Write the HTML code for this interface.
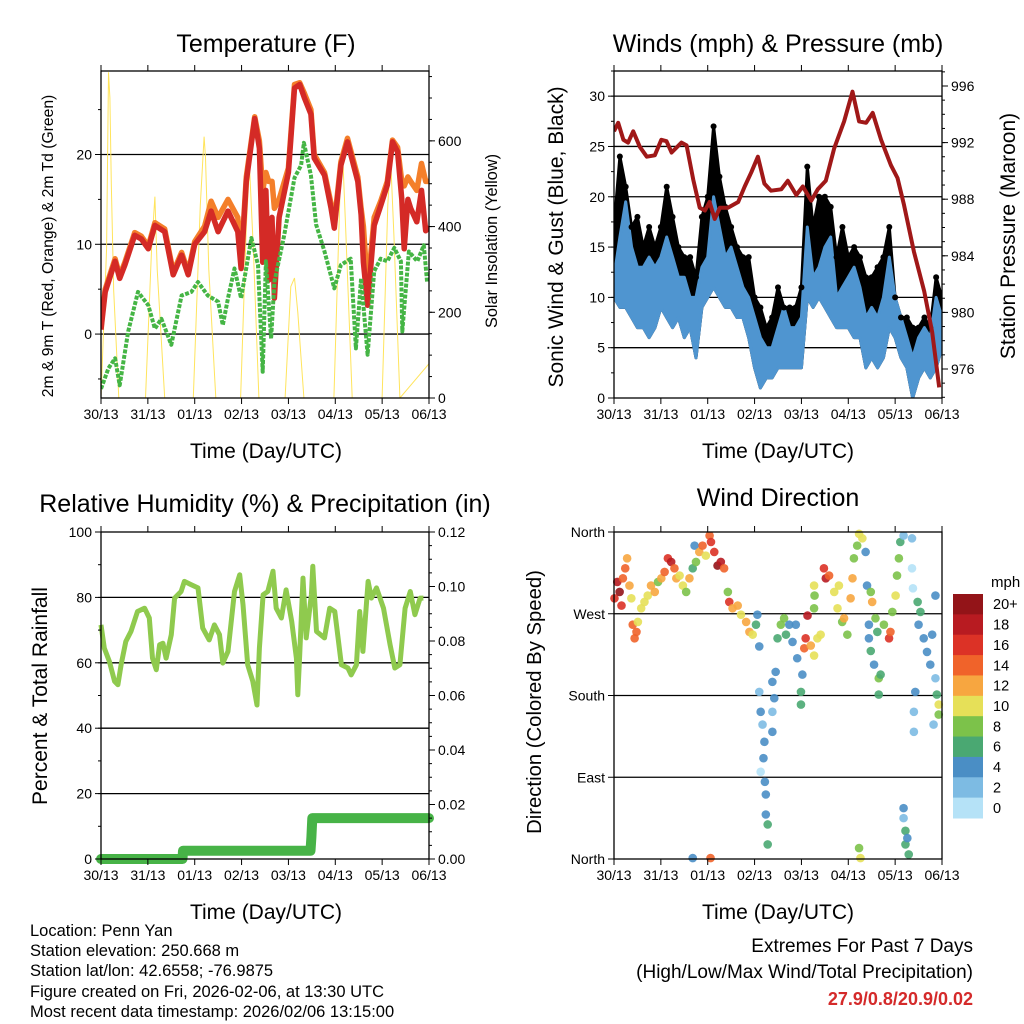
<!DOCTYPE html>
<html><head><meta charset="utf-8"><style>
html,body{margin:0;padding:0;background:#fff;}
svg{display:block;font-family:"Liberation Sans",sans-serif;}
</style></head><body>
<svg id="c" width="1024" height="1024" viewBox="0 0 1024 1024" xmlns="http://www.w3.org/2000/svg">
<rect width="1024" height="1024" fill="#fff"/>
<g id="layer"></g>
<text x="266" y="52" font-size="25" text-anchor="middle">Temperature (F)</text>
<text x="778" y="52" font-size="25" text-anchor="middle">Winds (mph) &amp; Pressure (mb)</text>
<text x="265" y="512" font-size="25" text-anchor="middle">Relative Humidity (%) &amp; Precipitation (in)</text>
<text x="778" y="506" font-size="25" text-anchor="middle">Wind Direction</text>
<text x="266" y="458" font-size="21" text-anchor="middle">Time (Day/UTC)</text>
<text x="778" y="458" font-size="21" text-anchor="middle">Time (Day/UTC)</text>
<text x="266" y="919" font-size="21" text-anchor="middle">Time (Day/UTC)</text>
<text x="778" y="919" font-size="21" text-anchor="middle">Time (Day/UTC)</text>
<text transform="translate(53,246) rotate(-90)" font-size="15.7" text-anchor="middle">2m &amp; 9m T (Red, Orange) &amp; 2m Td (Green)</text>
<text transform="translate(497,241) rotate(-90)" font-size="16.3" text-anchor="middle">Solar Insolation (Yellow)</text>
<text transform="translate(563,237) rotate(-90)" font-size="21" text-anchor="middle">Sonic Wind &amp; Gust (Blue, Black)</text>
<text transform="translate(1015,236) rotate(-90)" font-size="21" text-anchor="middle">Station Pressure (Maroon)</text>
<text transform="translate(47,696) rotate(-90)" font-size="21" text-anchor="middle">Percent &amp; Total Rainfall</text>
<text transform="translate(541,702) rotate(-90)" font-size="20.3" text-anchor="middle">Direction (Colored By Speed)</text>
<g font-size="16.5">
<text x="30" y="936">Location: Penn Yan</text>
<text x="30" y="956">Station elevation: 250.668 m</text>
<text x="30" y="976">Station lat/lon: 42.6558; -76.9875</text>
<text x="30" y="997">Figure created on Fri, 2026-02-06, at 13:30 UTC</text>
<text x="30" y="1017">Most recent data timestamp: 2026/02/06 13:15:00</text>
</g>
<g font-size="19" text-anchor="end">
<text x="973" y="952">Extremes For Past 7 Days</text>
<text x="973" y="978">(High/Low/Max Wind/Total Precipitation)</text>
<text x="973" y="1005" fill="#d42a2a" font-weight="bold" font-size="18">27.9/0.8/20.9/0.02</text>
</g>
<text x="991" y="587" font-size="15">mph</text>
</svg>
<script>
// ---------- Temperature data ----------
const tempTimes=[0,0.09,0.3,0.4,0.51,0.72,0.86,1.01,1.15,1.36,1.54,1.72,1.86,2.0,2.21,2.35,2.5,2.71,2.92,2.99,3.1,3.28,3.38,3.45,3.52,3.58,3.65,3.7,3.8,4.0,4.13,4.24,4.34,4.48,4.55,4.77,4.91,4.98,5.12,5.26,5.48,5.55,5.6,5.69,5.83,5.97,6.11,6.22,6.33,6.42,6.47,6.55,6.61,6.74,6.84,6.93,7];
const temp2m=[0.5,4.7,8.1,6.2,7.7,11,10.6,9.5,12.1,11.4,6.6,8.8,6.6,10,11.4,13.7,11.4,13.7,11.4,7.3,17,24,20.7,8,16,6,13,4,13,18,27.4,27.8,26.3,24.5,19.6,17.7,14,11.8,18.8,21.4,17,13.3,8,3.2,12.1,14.3,16.6,21.4,20.3,15,9.5,15,14,12.5,16,11.5,12];
const temp9m=[0.8,5,8.4,6.5,8,11.3,10.9,9.8,12.4,11.7,6.9,9.1,6.9,10.3,12,14.8,13,15,13,8,17.5,24.2,21.5,16,18,17,17,14,15,18.5,27.8,28,26.8,25,20,18,14.5,12.3,19.2,21.8,17.5,14,12,5,13,14.8,17,21.6,20.8,17,16.5,17.5,17,16,19,17,17];
const dewTimes=[0,0.16,0.3,0.4,0.58,0.79,1.01,1.15,1.29,1.5,1.72,1.93,2.07,2.28,2.5,2.6,2.71,2.85,2.99,3.21,3.35,3.45,3.52,3.63,3.7,3.91,4.13,4.27,4.33,4.48,4.59,4.77,4.98,5.12,5.33,5.44,5.55,5.69,5.83,5.97,6.11,6.26,6.4,6.43,6.57,6.75,6.89,6.96];
const dew2m=[-6.1,-3.8,-2.7,-5.7,0.3,4.7,3.2,0.6,1.7,-1.2,4.3,4.7,5.8,4.3,3.6,1,4,7.3,4,10.7,7.7,-4.2,8.1,-0.5,5.8,11,17.4,18.8,21.3,17.7,12.2,9.2,5.1,7.7,8.4,-1.6,6.2,-2.3,7,8.4,8.1,9.6,8.1,0.3,9.2,8.1,9.9,5.8];
const solarTimes=[0,0.12,0.16,0.19,0.22,0.27,0.38,0.95,1.08,1.15,1.2,1.36,1.97,2.12,2.2,2.23,2.3,2.45,2.98,3.1,3.17,3.25,3.37,3.93,4.05,4.13,4.2,4.33,4.97,5.1,5.16,5.22,5.36,6.0,6.12,6.18,6.25,6.38,7];
const solarVals=[0,350,760,700,500,250,0,0,350,470,300,0,0,450,610,560,300,0,0,400,540,350,0,0,260,280,200,0,0,480,560,400,0,0,450,560,380,0,80];
// ---------- Wind data ----------
const windTimes=[0,0.125,0.25,0.375,0.5,0.625,0.75,0.875,1,1.125,1.25,1.375,1.5,1.625,1.75,1.875,2,2.125,2.25,2.375,2.5,2.625,2.75,2.875,3,3.125,3.25,3.375,3.5,3.625,3.75,3.875,4,4.125,4.25,4.375,4.5,4.625,4.75,4.875,5,5.125,5.25,5.375,5.5,5.625,5.75,5.875,6,6.125,6.25,6.375,6.5,6.625,6.75,6.875,7];
const windLow=[10,9,9,8,7,7,6,7,9,8,7,8,6,7,4,9,10,11,10,9,9,8,8,6,3,1,2,2,3,3,3,3,3,10,9,10,9,8,7,7,7,6,6,3,4,3,4,7,6,4,3,0,2,3,2,3,5];
const windHigh=[12,16,19.5,15,13,13,14,13,14,16,14,12,12,10,10,13,14,20,17,14,15,13,11,10,8,6,5,5,7,9,7,7,8,17,12,13,15,16,10,11,12,13,11,8,9,8,10,14,10,8,6,4,6,7,6,10,8];
const gustHigh=[17,24,21,17,18,15,17,15,17,21,18,15,14,14,12,18,20,27,22,19,17,15,14,14,10,9,7,8,11,9,9,9,11,23,17,20,20,19,14,17,14,15,14,12,12,13,14,17,10,8,8,7,7,8,7,12,10];
const presTimes=[0,0.09,0.2,0.3,0.41,0.55,0.7,0.87,1.01,1.12,1.23,1.44,1.55,1.69,1.83,1.94,2.04,2.15,2.26,2.43,2.65,2.79,2.93,3.07,3.21,3.35,3.57,3.71,3.89,4.03,4.21,4.35,4.52,4.7,4.91,5.09,5.23,5.38,5.52,5.7,5.91,6.05,6.19,6.4,6.62,6.79,6.94];
const presVals=[992.8,993.4,992.2,992,992.8,991.7,991,991.1,992.2,992.1,991.3,992,991.8,989.4,987.4,987.2,987.8,986.6,987.4,987.4,987.8,988.9,989.9,991,989.1,988.6,988.7,989.3,988.3,988.9,987.9,988.7,989.3,991.6,993.5,995.6,993.5,993.4,994.1,992.2,990.4,989.5,987.6,984.3,981.5,978.6,974.7];
// ---------- RH / precip ----------
const rhTimes=[0,0.07,0.18,0.29,0.36,0.43,0.53,0.64,0.78,0.93,1.03,1.1,1.18,1.25,1.32,1.39,1.5,1.57,1.71,1.78,1.92,2.07,2.17,2.31,2.42,2.53,2.6,2.71,2.85,2.96,3.03,3.13,3.24,3.33,3.38,3.46,3.56,3.67,3.74,3.85,3.95,4.07,4.17,4.2,4.24,4.31,4.38,4.49,4.52,4.6,4.77,4.88,4.99,5.13,5.27,5.34,5.45,5.52,5.59,5.7,5.77,5.88,6.03,6.17,6.27,6.38,6.49,6.6,6.7,6.81,6.88];
const rhVals=[71.6,64.5,60.4,54.3,53.3,59.4,66.5,69.6,75.7,76.7,73.7,61.4,57.9,65.5,66,61.4,68.6,79.8,81.8,84.9,83.9,82.9,70.6,67,71.6,68.6,59.9,63.5,81.8,86.9,77.8,59.4,54.3,47.1,64.5,80.8,81.8,88,76.7,73.7,82.3,72.7,61.4,50.2,62.4,85.9,67.6,80.8,89.5,69.6,67.6,76.7,75.7,59.4,58.4,56.3,59.4,75.7,63.5,84.9,79.8,82.9,76.7,65.5,58.4,59.4,76.7,81.8,74.7,79.8,79.8];
const precipTimes=[0,1.74,1.75,4.47,4.49,4.51,7];
const precipVals=[0,0,0.003,0.003,0.008,0.015,0.015];
// ---------- Wind direction ----------
const dirTimes=[0.01,0.07,0.12,0.16,0.19,0.24,0.28,0.33,0.37,0.40,0.44,0.48,0.51,0.58,0.65,0.72,0.79,0.87,0.94,1.01,1.08,1.15,1.22,1.29,1.33,1.40,1.47,1.54,1.61,1.68,1.72,1.75,1.82,1.89,1.96,2.04,2.07,2.14,2.21,2.28,2.35,2.43,2.46,2.53,2.64,2.71,2.82,2.89,2.96,3.03,3.06,3.10,3.10,3.13,3.17,3.21,3.19,3.13,3.22,3.24,3.24,3.28,3.28,3.38,3.42,3.38,3.38,3.45,3.49,3.56,3.63,3.67,3.74,3.81,3.88,3.91,3.99,3.99,4.02,4.06,4.09,4.13,4.20,4.27,4.34,4.41,4.27,4.27,4.28,4.48,4.52,4.59,4.70,4.77,4.80,4.87,4.91,4.98,5.05,5.09,5.12,5.19,5.23,5.30,5.37,5.40,5.48,5.51,5.44,5.44,5.48,5.55,5.58,5.62,5.65,5.65,5.69,5.76,5.87,5.90,5.94,6.01,6.04,6.08,6.11,6.18,6.18,6.22,6.22,6.26,6.29,6.18,6.36,6.36,6.38,6.43,6.40,6.40,6.48,6.50,6.54,6.61,6.68,6.75,6.79,6.86,6.89,6.93,6.93,6.86,6.82,5.23,5.26,1.68,2.06];
const dirDegs=[287,305,294,279,309,320,331,301,287,258,243,250,261,276,283,290,301,294,305,309,316,331,327,320,309,312,301,294,309,320,345,327,338,345,334,356,349,338,323,327,320,294,283,276,279,269,261,250,247,258,269,234,184,162,148,129,111,96,85,71,49,38,16,195,177,162,140,206,243,258,265,247,258,239,258,221,184,170,203,232,243,268,235,224,243,247,276,301,290,320,309,312,294,276,301,261,265,247,287,309,331,345,358,353,338,301,294,283,258,243,229,214,265,250,199,181,203,258,243,250,272,290,312,331,349,356,56,31,16,23,5,45,353,320,298,184,162,140,283,258,272,243,228,214,247,199,181,170,159,290,148,12,1,1,1];
const dirSpeeds=[16,18,20,16,14,14,12,12,10,14,14,14,10,10,10,10,12,12,8,12,14,16,18,14,12,10,10,8,12,6,4,8,12,14,10,14,16,16,20,18,14,8,16,12,12,10,12,12,10,6,4,4,2,4,2,4,4,1,4,4,4,6,6,4,4,2,4,4,6,8,8,6,4,4,4,4,6,6,4,14,16,18,12,10,10,10,8,10,8,16,18,14,10,10,10,8,12,8,12,12,8,8,10,10,4,4,8,12,4,4,6,4,8,6,8,6,6,8,16,14,8,10,8,8,6,2,4,6,6,4,6,2,2,0,0,4,2,2,6,4,6,4,4,4,4,2,6,10,8,4,2,8,10,4,14];
const xTickLabels=["30/13","31/13","01/13","02/13","03/13","04/13","05/13","06/13"];
const speedLabels=["20+","18","16","14","12","10","8","6","4","2","0"];
const speedColors=["#b5e2f7","#7dbbe3","#4a8ec5","#4aa872","#7cc24a","#e6e058","#f7a640","#f0632a","#dc3226","#b81b21","#931418"];

const NS="http://www.w3.org/2000/svg";
const layer=document.getElementById('layer');
function mk(tag,attrs,parent){const e=document.createElementNS(NS,tag);for(const k in attrs)e.setAttribute(k,attrs[k]);(parent||layer).appendChild(e);return e;}
function lin(d0,d1,r0,r1){return v=>r0+(v-d0)*(r1-r0)/(d1-d0);}

const P={
 temp:{L:101,R:429,T:71,B:398},
 wind:{L:614,R:942,T:71,B:398},
 rh:{L:101,R:429,T:532,B:859},
 dir:{L:614,R:942,T:532,B:859}
};
function xs(p){return lin(0,7,p.L,p.R);}

function drawGrid(p,ys,vals){
 const g=mk('g',{});
 
 
 vals.forEach(v=>{mk('line',{x1:p.L,x2:p.R,y1:ys(v),y2:ys(v),stroke:'#000','stroke-width':1.3},g);});
}
function drawFrame(p,name){
 const g=mk('g',{});
 
 
 mk('rect',{x:p.L,y:p.T,width:p.R-p.L,height:p.B-p.T,fill:'none',stroke:'#000','stroke-width':1.3},g);
 const x=xs(p);
 xTickLabels.forEach((lab,i)=>{
  const px=x(i);
  mk('line',{x1:px,x2:px,y1:p.B,y2:p.B+6,stroke:'#000'},g);
  mk('line',{x1:px,x2:px,y1:p.T,y2:p.T-6,stroke:'#000'},g);
  const t=mk('text',{x:px,y:p.B+21,'font-size':14,'text-anchor':'middle'},g);
  t.textContent=lab;
  
  
 });
 return g;
}
function drawYAxis(p,ys,labels,vals,minors,side,fmt,g){
 const xe=side==='L'?p.L:p.R, dir=side==='L'?-1:1;
 minors.forEach(v=>{mk('line',{x1:xe,x2:xe+dir*3,y1:ys(v),y2:ys(v),stroke:'#000'},g);});
 vals.forEach((v,i)=>{
  mk('line',{x1:xe,x2:xe+dir*6,y1:ys(v),y2:ys(v),stroke:'#000'},g);
  const t=mk('text',{x:xe+dir*9,y:ys(v)+5,'font-size':14,'text-anchor':side==='L'?'end':'start'},g);
  t.textContent=labels[i];
  
  
 });
}
function range(a,b,s){const r=[];for(let v=a;v<=b+1e-9;v+=s)r.push(+v.toFixed(4));return r;}
function pts(xf,yf,ts,vs){return ts.map((t,i)=>xf(t).toFixed(1)+','+yf(vs[i]).toFixed(1)).join(' ');}

// ===== Temperature panel =====
(function(){
 const p=P.temp,x=xs(p),y=lin(-7.12,29.3,p.B,p.T),ys=lin(0,763,p.B,p.T);
 drawGrid(p,y,[0,10,20]);
 const clip=mk('clipPath',{id:'cT'});mk('rect',{x:p.L,y:p.T,width:p.R-p.L,height:p.B-p.T},clip);
 const g=mk('g',{'clip-path':'url(#cT)'});
 const s=mk('polyline',{points:pts(x,ys,solarTimes,solarVals),fill:'none',stroke:'#ffe45c','stroke-width':1},g);
 
 
 const o=mk('polyline',{points:pts(x,y,tempTimes,temp9m),fill:'none',stroke:'#f47f2a','stroke-width':5.5,'stroke-linejoin':'round'},g);
 
 
 const r=mk('polyline',{points:pts(x,y,tempTimes,temp2m),fill:'none',stroke:'#d42a26','stroke-width':5.5,'stroke-linejoin':'round'},g);
 
 
 const d=mk('polyline',{points:pts(x,y,dewTimes,dew2m),fill:'none',stroke:'#45b545','stroke-width':4,'stroke-dasharray':'4 1.5','stroke-linejoin':'round'},g);
 
 
 const f=drawFrame(p,'temp');
 drawYAxis(p,y,['0','10','20'],[0,10,20],[-5,5,15,25],'L',null,f);
 drawYAxis(p,ys,['0','200','400','600'],[0,200,400,600],range(0,750,50),'R',null,f);
})();

// ===== Wind panel =====
(function(){
 const p=P.wind,x=xs(p),y=lin(0,32.5,p.B,p.T),yp=lin(973.95,997.06,p.B,p.T);
 drawGrid(p,y,[5,10,15,20,25,30]);
 const clip=mk('clipPath',{id:'cW'});mk('rect',{x:p.L,y:p.T,width:p.R-p.L,height:p.B-p.T},clip);
 const g=mk('g',{'clip-path':'url(#cW)'});
 const band=(lo,hi,col,name)=>{
  const fw=windTimes.map((t,i)=>x(t).toFixed(1)+','+y(hi[i]).toFixed(1));
  const bw=windTimes.map((t,i)=>x(t).toFixed(1)+','+y(lo[i]).toFixed(1)).reverse();
  const e=mk('polygon',{points:fw.concat(bw).join(' '),fill:col,stroke:col,'stroke-width':3,'stroke-linejoin':'round'},g);
  
  
 };
 band(windLow,gustHigh,'#000','gust-band');
 band(windLow,windHigh,'#4f95d0','sonic-wind-band');
 gustHigh.forEach((v,i)=>{
  const c=mk('circle',{cx:x(windTimes[i]),cy:y(v),r:3,fill:'#000'},g);
  
  
 });
 const pr=mk('polyline',{points:pts(x,yp,presTimes,presVals),fill:'none',stroke:'#a01818','stroke-width':4,'stroke-linejoin':'round'},g);
 
 
 const f=drawFrame(p,'wind');
 drawYAxis(p,y,['0','5','10','15','20','25','30'],[0,5,10,15,20,25,30],range(0,32.5,2.5),'L',null,f);
 drawYAxis(p,yp,['976','980','984','988','992','996'],[976,980,984,988,992,996],range(974,997,1),'R',null,f);
})();

// ===== RH panel =====
(function(){
 const p=P.rh,x=xs(p),y=lin(0,100,p.B,p.T),yr=lin(0,0.12,p.B,p.T);
 drawGrid(p,y,[20,40,60,80]);
 const clip=mk('clipPath',{id:'cR'});mk('rect',{x:p.L-8,y:p.T,width:p.R-p.L+16,height:p.B-p.T+8},clip);
 const g=mk('g',{'clip-path':'url(#cR)'});
 const rl=mk('polyline',{points:pts(x,y,rhTimes,rhVals),fill:'none',stroke:'#8fca4e','stroke-width':5,'stroke-linejoin':'round'},g);
 
 
 const pl=mk('polyline',{points:pts(x,yr,precipTimes,precipVals),fill:'none',stroke:'#47b347','stroke-width':10,'stroke-linecap':'round','stroke-linejoin':'round'},g);
 
 
 const f=drawFrame(p,'rh');
 drawYAxis(p,y,['0','20','40','60','80','100'],[0,20,40,60,80,100],range(0,100,10),'L',null,f);
 drawYAxis(p,yr,['0.00','0.02','0.04','0.06','0.08','0.10','0.12'],[0,0.02,0.04,0.06,0.08,0.10,0.12],range(0,0.12,0.005),'R',null,f);
})();

// ===== Direction panel =====
(function(){
 const p=P.dir,x=xs(p),y=lin(0,360,p.B,p.T);
 drawGrid(p,y,[90,180,270]);
 const g=mk('g',{});
 dirTimes.forEach((t,i)=>{
  const idx=Math.min(10,Math.floor(dirSpeeds[i]/2));
  const c=mk('circle',{cx:x(t),cy:y(dirDegs[i]),r:4.3,fill:speedColors[idx],'fill-opacity':0.9},g);
  
  
 });
 const f=drawFrame(p,'dir');
 drawYAxis(p,y,['North','East','South','West','North'],[0,90,180,270,360],[],'L',null,f);
 const cb=mk('g',{});
 
 
 const top=594,h=(818-594)/11;
 speedLabels.forEach((lab,i)=>{
  mk('rect',{x:953,y:top+i*h,width:30,height:h+0.5,fill:speedColors[10-i]},cb);
  const t=mk('text',{x:993,y:top+i*h+h/2+5,'font-size':14.5},cb);
  t.textContent=lab;
  
  
 });
})();
</script>
</body></html>
